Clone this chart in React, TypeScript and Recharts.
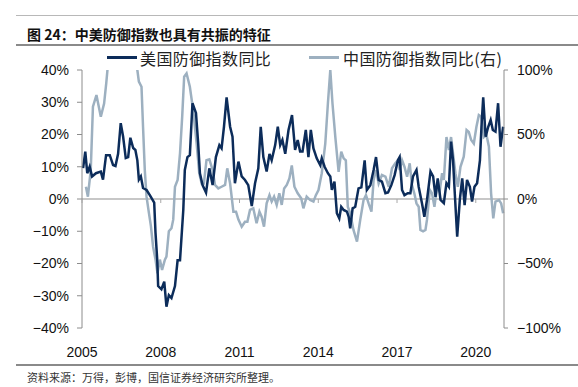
import { LineChart, Line, XAxis, YAxis, ReferenceLine } from "recharts";

// months since Jan 2005
const usMonth = [
  0.5, 1.5, 2.4, 3.5, 4.6, 6.4, 8.6, 9.6, 11, 12.7,
  14.2, 15.3, 16.5, 17.7, 18.8, 20, 21.1, 22.1, 23.4, 24.4,
  25.3, 26, 26.9, 27.9, 29.5, 31, 33, 33.6, 34.4, 34.8,
  36.3, 37.6, 38.6, 39.7, 40.9, 42.5, 43.7, 44.8, 46.3, 47,
  48.2, 49.3, 50.5, 52.1, 53.1, 53.9, 55.1, 56.7, 58.2, 59.7,
  61.2, 62.8, 63.8, 64.9, 66.1, 67.7, 68.8, 69.9, 71.5, 73,
  74.5, 76, 77.6, 79.1, 80.6, 81.7, 82.9, 84.4, 85.7, 86.7,
  88.3, 89.5, 90.6, 91.6, 92.9, 94.4, 96, 97.4, 98.6, 99.7,
  100.8, 102.3, 103.5, 104.6, 105.8, 107.3, 108.9, 109.6, 110.9, 112.4,
  113.5, 114.2, 115.4, 116.5, 117.6, 118.5, 119.6, 121.1, 121.9, 122.6,
  123.7, 124.9, 126.4, 127.7, 129.2, 130.2, 131.8, 133.3, 134.4, 135.6,
  137.1, 138.7, 139.9, 141.4, 142.9, 144.4, 145.2, 146.3, 147.4, 148.9,
  150.1, 151.3, 152.9, 153.9, 155.4, 156.5, 157.7, 159.3, 160.5, 161.6,
  162.6, 163.9, 165.4, 166.6, 167.7, 168.7, 169.6, 170.4, 171.5, 172.7,
  173.8, 174.9, 176, 177.3, 178.3, 179.4, 180.6, 181.9, 182.6, 183.4,
  184.5, 185.7, 186.8, 187.8, 189, 190.2, 191.3, 192.5,
];
const usYoY = [
  9.6, 14.7, 8, 10, 7, 8, 8.5, 6, 13.6, 13.6,
  10.5, 10.2, 14, 23.5, 19.3, 12.7, 13, 19, 15.8, 15.2,
  12, 6, 7, 3.4, 2.8, 1.2, -1.1, -10.5, -19, -27,
  -28, -25.6, -33.4, -29.8, -30.7, -27, -19, -19, -3.4, 9,
  13, 13.6, 29.7, 26.7, 17.3, 8, 4.3, 2, 9.5, 4.3,
  13, 16.7, 15.7, 22.4, 31.5, 22.4, 19.3, 4.9, 11.6, 7,
  5.9, 4.3, -2.2, 4.9, 9.5, 22.4, 13, 8.5, 14, 12,
  16.7, 22.4, 16.7, 18.3, 14, 21.4, 26, 15.2, 18.3, 14.7,
  14.7, 21.4, 13, 21.4, 15.7, 12.6, 10.5, 12.6, 10, 8,
  7, 2.8, 5.4, -4.4, -6, -2.4, -3.4, -3.9, -5.5, -9.1,
  -2.9, -2.4, 3.3, 3.6, 12, 2.8, 4.3, 9, 13, 5.9,
  5.4, 1.8, 2, 4.3, 7.4, 12, 13, 2.8, 1.2, 1.8,
  1.8, 7, 9, 3.8, -1.3, -5.5, -0.3, 8.5, 7, 0.7,
  6.4, -0.3, -1.3, 4.9, 3.8, 17.8, 12, 1.8, -11.7, -0.3,
  6.4, -1.9, 5.9, 3.8, -0.8, 3.8, 4.9, 12, 22.4, 31.5,
  19.3, 22.4, 24.5, 21.4, 20.9, 29.7, 16.2, 22.4,
];

const cnMonth = [
  1.8, 2.7, 4, 5, 6.6, 8.6, 10.1, 11.1, 11.9, 13.7,
  16.5, 19.7, 22.9, 24.5, 25.3, 26, 27.2, 27.9, 28.7, 29.5,
  30.6, 31.5, 32.5, 33.6, 34.5, 35.6, 36.6, 37.9, 38.6, 39.7,
  40.9, 41.7, 42.5, 43.7, 44.8, 45.8, 46.7, 47.8, 49.3, 50.8,
  52.4, 53.6, 54.7, 55.7, 56.9, 58.2, 59.7, 60.8, 62.3, 63.8,
  65.4, 66.4, 67.7, 69.2, 70.4, 71.5, 73, 74.5, 75.6, 76.8,
  78.3, 79.8, 81.1, 82.1, 83.2, 84.4, 85.7, 86.7, 87.8, 89,
  90.2, 91.3, 92.4, 93.6, 94.8, 95.9, 97.1, 98.6, 100.2, 101.2,
  102.7, 104.3, 105.8, 106.9, 108.1, 109.6, 111.2, 112.4, 113.5, 114.5,
  115.8, 117.3, 118.5, 119.6, 120.6, 121.5, 122.6, 124.1, 125.7, 127.2,
  128.7, 129.8, 131, 132.3, 133.3, 134.4, 135.6, 137.1, 138.7, 140.2,
  141.7, 143.2, 144.4, 145.2, 146.3, 147.4, 148.6, 149.8, 150.8, 151.9,
  152.9, 153.9, 154.7, 155.9, 157, 157.7, 159, 160, 161.1, 162.3,
  163.5, 164.6, 165.4, 166.6, 167.7, 168.7, 169.6, 170.7, 171.8, 173,
  174.5, 175.8, 176.8, 177.9, 179.1, 180.3, 181.4, 182.5, 183.7, 184.9,
  186, 187, 188, 189, 190.6, 191.6, 192.5,
];
const cnYoY = [
  9.5, 1.8, 22.5, 71.5, 80.6, 63.8, 74, 90, 105, 135,
  150, 145, 125, 108, 100, 91, 87, 56, 22.5, 1.8,
  -11, -21, -37, -47, -57.6, -47, -55, -47, -44.7, -25,
  -22.7, -16, 9.5, 14.7, 35.4, 63.8, 94.8, 97.4, 87, 69,
  43, 20, 12, 12, 30, 30.7, 22.5, 10.9, 8.2, 9.5,
  10.9, 23.8, 12, -9.8, -9.8, -16, -21.5, -17.6, -17.6, -8.5,
  -7.2, -18.8, -9.8, -13.7, -21.5, -3.4, 3, -2, 1.8, -4.6,
  4.4, -4.6, 8.2, 10.9, 16, 26, 9.5, 4.4, 0.5, -7.2,
  1.8, -0.8, -2, 3, 7, 20, 43, 74, 100, 74,
  48, 21, 36.7, 31.5, 30, -6, -11, -24, -33, -16,
  -0.8, 3, -3.4, -9.8, 14.7, 22.5, 12, 18.6, 17.3, 9.5,
  23.8, 27.7, 30, 22.5, 30, 25, 17.3, 27.7, 10.9, 4.4,
  -3.4, -6, -24, -25, -24, -16, 7, 4.4, -6, 9.5,
  5.7, 20, 14.7, 48, 38, 48, 35.4, 20, 9.5, 25,
  32.8, 53.5, 52, 45.7, 43, 56, 65, 63.8, 48, 49.6,
  40.5, 4.4, -15, -2, -0.8, -3.4, -11,
];

const yearTicks = [0, 36, 72, 108, 144, 180];
const leftTicks = [-40, -30, -20, -10, 0, 10, 20, 30, 40];
const rightTicks = [-100, -50, 0, 50, 100];

const usData = usMonth.map((m, i) => ({ m, us: usYoY[i] }));
const cnData = cnMonth.map((m, i) => ({ m, cn: cnYoY[i] }));

const US_COLOR = "#0c2c5a";
const CN_COLOR = "#9db0c0";
const AXIS_COLOR = "#8c8c8c";
const PLOT_H = 258;
const latin = "'Liberation Sans', Arial, sans-serif";
const cjk = "'Noto Sans CJK SC', sans-serif";

const pct = (v: number) => (v < 0 ? `\u2212${-v}%` : `${v}%`);

const YearTick = (props: any) => {
  const { x, y, payload } = props;
  const zeroY = y - PLOT_H / 2;
  return (
    <g>
      <line x1={x} x2={x} y1={zeroY} y2={zeroY + 4} stroke="#a8a8a8" />
      <text x={x} y={y + 29} textAnchor="middle" fontSize={14} fontFamily={latin} fill="#111">
        {2005 + Math.round(payload.value / 12)}
      </text>
    </g>
  );
};

export default function App() {
  return (
    <div
      style={{
        position: "absolute",
        left: 0,
        top: 0,
        width: 578,
        height: 387,
        background: "#fff",
        fontFamily: cjk,
      }}
    >
      <div style={{ position: "absolute", left: 16, right: 0, top: 15, height: 1, background: "#b8b8b8" }} />
      <div
        style={{
          position: "absolute",
          left: 27,
          top: 25,
          fontSize: 14,
          fontWeight: 700,
          color: "#111",
          lineHeight: "18px",
          whiteSpace: "nowrap",
        }}
      >
        图 24：中美防御指数也具有共振的特征
      </div>
      <div style={{ position: "absolute", left: 16, right: 0, top: 44, height: 2, background: "#8a8a8a" }} />

      {/* legend */}
      <div style={{ position: "absolute", left: 107, top: 56, width: 30, height: 3, background: US_COLOR }} />
      <div
        style={{ position: "absolute", left: 140, top: 47, fontSize: 16, letterSpacing: 0.4, color: "#222", lineHeight: "22px", whiteSpace: "nowrap" }}
      >
        美国防御指数同比
      </div>
      <div style={{ position: "absolute", left: 309, top: 56, width: 30, height: 3, background: CN_COLOR }} />
      <div
        style={{ position: "absolute", left: 343, top: 47, fontSize: 16, letterSpacing: 0.4, color: "#222", lineHeight: "22px", whiteSpace: "nowrap" }}
      >
        中国防御指数同比(右)
      </div>

      <div style={{ position: "absolute", left: 0, top: 0 }}>
        <LineChart width={578} height={387} margin={{ top: 70, right: 0, bottom: 29, left: 0 }}>
          <XAxis
            dataKey="m"
            type="number"
            domain={[0, 192.9]}
            ticks={yearTicks}
            interval={0}
            axisLine={false}
            tickLine={false}
            tickSize={0}
            tickMargin={0}
            height={30}
            tick={<YearTick />}
          />
          <YAxis
            yAxisId="left"
            orientation="left"
            domain={[-40, 40]}
            ticks={leftTicks}
            tickFormatter={pct}
            width={82}
            tickSize={5}
            tickMargin={8}
            axisLine={{ stroke: AXIS_COLOR }}
            tickLine={{ stroke: AXIS_COLOR }}
            tick={{ fill: "#111", fontSize: 14, fontFamily: latin }}
          />
          <YAxis
            yAxisId="right"
            orientation="right"
            domain={[-100, 100]}
            ticks={rightTicks}
            allowDataOverflow
            tickFormatter={pct}
            width={74}
            tickSize={4}
            tickMargin={9}
            axisLine={{ stroke: AXIS_COLOR }}
            tickLine={{ stroke: AXIS_COLOR }}
            tick={{ fill: "#111", fontSize: 14, fontFamily: latin, textAnchor: "start" }}
          />
          <ReferenceLine yAxisId="left" y={0} stroke="#b4b4b4" strokeWidth={1.5} />
          <Line
            yAxisId="right"
            data={cnData}
            dataKey="cn"
            type="linear"
            stroke={CN_COLOR}
            strokeWidth={2.5}
            dot={false}
            activeDot={false}
            isAnimationActive={false}
          />
          <Line
            yAxisId="left"
            data={usData}
            dataKey="us"
            type="linear"
            stroke={US_COLOR}
            strokeWidth={2.5}
            dot={false}
            activeDot={false}
            isAnimationActive={false}
          />
        </LineChart>
      </div>

      <div style={{ position: "absolute", left: 16, right: 0, top: 364, height: 2, background: "#8a8a8a" }} />
      <div
        style={{ position: "absolute", left: 27, top: 369, fontSize: 11, color: "#333", lineHeight: "16px", whiteSpace: "nowrap" }}
      >
        资料来源：万得，彭博，国信证券经济研究所整理。
      </div>
    </div>
  );
}
